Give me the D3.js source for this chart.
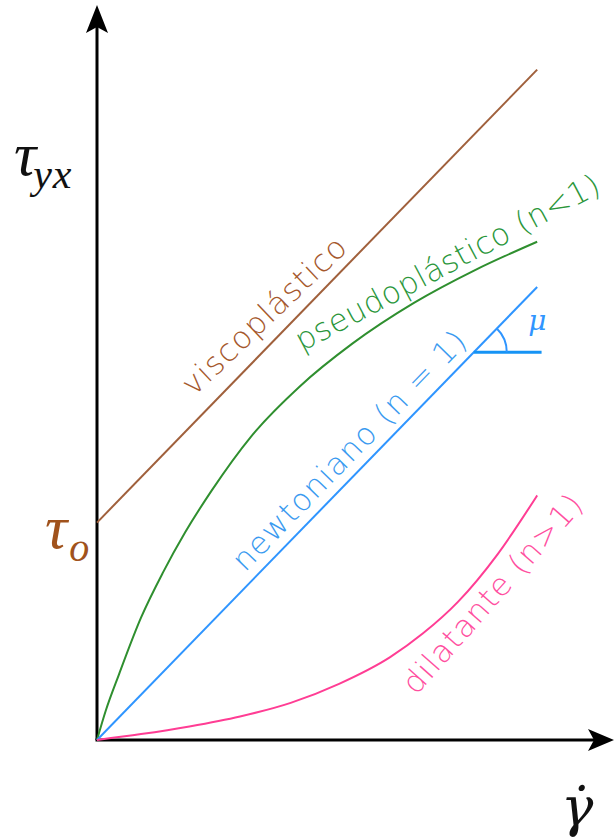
<!DOCTYPE html>
<html><head><meta charset="utf-8">
<script src="https://cdn.jsdelivr.net/npm/d3@7"></script>
<style>html,body{margin:0;padding:0;background:#fff;} svg{display:block;}</style>
</head><body>
<svg id="chart" width="614" height="840"></svg>
<script>
// Flow curves: shear stress (tau_yx) against shear rate (gamma dot), arbitrary units
const newtoniano = [[0, 0], [100, 100]];
const viscoplastico = [[0, 48], [100, 148]];
const pseudoplastico = [[0, 0], [2, 6.5], [5, 14.5], [10, 27], [15, 37], [20, 45.8], [26, 55],
  [35, 67], [46, 78], [58, 87.5], [72, 96.5], [86, 103.8], [100, 110]];
const dilatante = [[0, 0], [10, 1.3], [21, 3.0], [32.5, 5.2], [44, 8.2], [55, 12.4], [66.6, 18.3],
  [74, 23.5], [82, 30.5], [91, 41], [100, 54]];
const tau0 = 48;
const xMax = 117, yMax = 161.6;

const svg = d3.select("#chart");
const x = d3.scaleLinear().domain([0, xMax]).range([97, 612]);
const y = d3.scaleLinear().domain([0, yMax]).range([740, 8]);

const line = d3.line().x(d => x(d[0])).y(d => y(d[1]));
const smooth = d3.line().x(d => x(d[0])).y(d => y(d[1])).curve(d3.curveMonotoneX);

// axes with arrow heads
const axis = svg.append("g").attr("stroke", "#000").attr("stroke-width", 3).attr("fill", "none");
axis.append("line").attr("x1", x(0)).attr("y1", y(0)).attr("x2", x(0)).attr("y2", y(yMax) + 18);
axis.append("line").attr("x1", x(0) - 1.5).attr("y1", y(0)).attr("x2", x(xMax) - 18).attr("y2", y(0));
svg.append("path")
  .attr("d", `M${x(0)},${y(yMax) - 3} L${x(0) - 11},${y(yMax) + 25} L${x(0)},${y(yMax) + 19} L${x(0) + 11},${y(yMax) + 25} Z`)
  .attr("fill", "#000");
svg.append("path")
  .attr("d", `M${x(xMax) + 2},${y(0)} L${x(xMax) - 24},${y(0) - 11} L${x(xMax) - 18},${y(0)} L${x(xMax) - 24},${y(0) + 11} Z`)
  .attr("fill", "#000");

// flow curves
const series = [
  { data: viscoplastico, color: "#a0603c", gen: line },
  { data: pseudoplastico, color: "#2f8f2f", gen: smooth },
  { data: newtoniano, color: "#2f95ff", gen: line },
  { data: dilatante, color: "#ff3d94", gen: smooth }
];
svg.append("g").selectAll("path").data(series).join("path")
  .attr("d", d => d.gen(d.data))
  .attr("fill", "none")
  .attr("stroke", d => d.color)
  .attr("stroke-width", 2);

// slope marker (mu) on the newtonian line
const muY = 85.6;
const muX0 = muY;
const cx = x(muX0), cy = y(muY);
svg.append("line").attr("x1", cx).attr("y1", cy).attr("x2", x(101)).attr("y2", cy)
  .attr("stroke", "#1593f5").attr("stroke-width", 3);
const ang = Math.atan2(y(0) - y(100), x(100) - x(0));
const r = 33;
svg.append("path")
  .attr("d", `M${cx + r},${cy} A${r},${r} 0 0 0 ${cx + r * Math.cos(ang)},${cy - r * Math.sin(ang)}`)
  .attr("fill", "none").attr("stroke", "#2f95ff").attr("stroke-width", 2);
svg.append("text").attr("x", x(98)).attr("y", y(90.5))
  .attr("font-family", "DejaVu Serif").attr("font-style", "italic").attr("font-size", 28)
  .attr("fill", "#2f95ff").text("μ");

// rotated curve labels
const curveLabels = [
  { text: "viscoplástico", at: [22.0, 75.7], angle: -43.5, color: "#a5582c", spacing: 1.2 },
  { text: "pseudoplástico (n<1)", at: [46.6, 85.7], angle: -28, color: "#2a963a", spacing: 0.4 },
  { text: "newtoniano (n = 1)", at: [33.6, 36.9], angle: -45.8, color: "#3a9af0", spacing: 1.2 },
  { text: "dilatante (n>1)", at: [72.5, 9.7], angle: -48.5, color: "#ff4fa0", spacing: 1.2 }
];
svg.append("g").selectAll("text").data(curveLabels).join("text")
  .attr("transform", d => `translate(${x(d.at[0])},${y(d.at[1])}) rotate(${d.angle})`)
  .attr("font-family", "DejaVu Sans, Verdana, sans-serif")
  .attr("font-weight", 300)
  .attr("font-size", 31)
  .attr("letter-spacing", d => d.spacing)
  .attr("fill", d => d.color)
  .text(d => d.text);

// axis symbols
const mathFont = "Liberation Serif, serif";
const tyx = svg.append("text").attr("x", 14).attr("y", 175)
  .attr("font-family", mathFont).attr("font-style", "italic").attr("font-size", 62).attr("fill", "#111");
tyx.append("tspan").text("τ");
tyx.append("tspan").attr("font-size", 42).attr("dy", 13).attr("dx", -3).attr("letter-spacing", 1).text("yx");

const t0 = svg.append("text").attr("x", 45).attr("y", y(tau0) + 25)
  .attr("font-family", mathFont).attr("font-style", "italic").attr("font-size", 62).attr("fill", "#a0521c");
t0.append("tspan").text("τ");
t0.append("tspan").attr("font-size", 40).attr("dy", 13).attr("dx", 2).text("o");

svg.append("text").attr("x", 561).attr("y", 826)
  .attr("font-family", "DejaVu Serif, serif").attr("font-style", "italic").attr("font-size", 54).attr("fill", "#111")
  .text("γ\u0307");
</script>
</body></html>
